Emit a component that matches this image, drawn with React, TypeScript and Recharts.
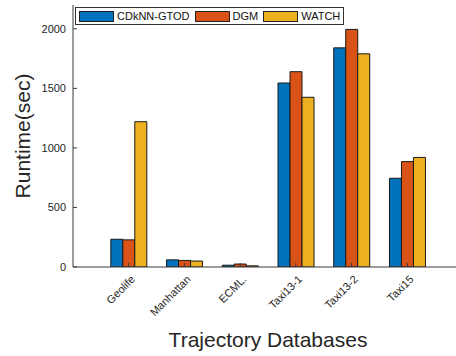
import { BarChart, Bar, XAxis, YAxis, Label } from "recharts";

const databases = ["Geolife", "Manhattan", "ECML.", "Taxi13-1", "Taxi13-2", "Taxi15"];
const cdknnGtod = [233, 60, 15, 1545, 1840, 745];
const dgm = [228, 55, 25, 1640, 1995, 885];
const watch = [1220, 50, 10, 1425, 1790, 920];
const yTicks = [0, 500, 1000, 1500, 2000];

const series = [
  { key: "cdknn", name: "CDkNN-GTOD", color: "#0072BD" },
  { key: "dgm", name: "DGM", color: "#D95319" },
  { key: "watch", name: "WATCH", color: "#EDB120" },
];

const data = databases.map((name, i) => ({
  name,
  cdknn: cdknnGtod[i],
  dgm: dgm[i],
  watch: watch[i],
}));

const FONT = "Liberation Sans, Arial, Helvetica, sans-serif";
const AXIS = "#3a3a3a";

const BottomTick = (props: any) => {
  const { x, y, payload } = props;
  const lx = x + 7;
  const ly = y + 7;
  return (
    <g>
      <line x1={x} x2={x} y1={y - 6} y2={y - 10} stroke={AXIS} strokeWidth={1} />
      <text
        x={lx}
        y={ly}
        textAnchor="end"
        fontSize={11}
        fontFamily={FONT}
        fill="#262626"
        transform={`rotate(-45, ${lx}, ${ly})`}
      >
        {payload.value}
      </text>
    </g>
  );
};

const TopTick = (props: any) => {
  const { x, y } = props;
  return <line x1={x} x2={x} y1={y + 6} y2={y + 10} stroke={AXIS} strokeWidth={1} />;
};

const LeftTick = (props: any) => {
  const { x, y, payload } = props;
  return (
    <g>
      <line x1={x + 6} x2={x + 10} y1={y} y2={y} stroke={AXIS} strokeWidth={1} />
      <text x={x - 1} y={y} dy={4} textAnchor="end" fontSize={11} fontFamily={FONT} fill="#262626">
        {payload.value}
      </text>
    </g>
  );
};

// legend drawn over the plot like the MATLAB "northwest" box
const LegendBox = () => (
  <div
    style={{
      position: "absolute",
      left: 75,
      top: 7,
      display: "flex",
      alignItems: "center",
      border: "1px solid #333",
      background: "#fff",
      padding: "0 3px",
      fontFamily: FONT,
      fontSize: 11,
      color: "#111",
      height: 18,
      boxSizing: "border-box",
      whiteSpace: "nowrap",
    }}
  >
    {series.map((s, i) => (
      <div
        key={s.key}
        style={{ display: "flex", alignItems: "center", marginRight: i < series.length - 1 ? 5 : 0 }}
      >
        <span
          style={{
            display: "inline-block",
            width: 35,
            height: 11,
            boxSizing: "border-box",
            background: s.color,
            border: "1px solid #222",
            marginRight: 3,
          }}
        />
        <span>{s.name}</span>
      </div>
    ))}
  </div>
);

export default function App() {
  return (
    <div
      style={{
        position: "absolute",
        left: 0,
        top: 0,
        width: 456,
        height: 356,
        overflow: "hidden",
        background: "#fff",
      }}
    >
      <BarChart
        width={470}
        height={356}
        data={data}
        margin={{ top: 5, right: 7, bottom: 0, left: 0 }}
        barGap={0}
        barSize={12}
      >
        <XAxis
          dataKey="name"
          xAxisId="top"
          orientation="top"
          height={0}
          padding={{ left: 27.8, right: 27.8 }}
          stroke="#888"
          tickLine={false}
          tickSize={6}
          tick={<TopTick />}
        />
        <XAxis
          dataKey="name"
          height={89}
          padding={{ left: 27.8, right: 27.8 }}
          stroke={AXIS}
          tickLine={false}
          tickSize={6}
          tickMargin={0}
          tick={<BottomTick />}
          interval={0}
        >
          <Label
            value="Trajectory Databases"
            position="insideBottom"
            offset={9}
            style={{ fontSize: 21, fontFamily: FONT, fill: "#262626" }}
          />
        </XAxis>
        <YAxis
          width={73}
          domain={[0, 2200]}
          ticks={yTicks}
          allowDataOverflow
          stroke={AXIS}
          tickLine={false}
          tickSize={6}
          tickMargin={0}
          tick={<LeftTick />}
        >
          <Label
            content={({ viewBox }: any) => {
              const cx = viewBox.x + 23;
              const cy = viewBox.y + viewBox.height / 2;
              return (
                <text
                  x={cx}
                  y={cy}
                  textAnchor="middle"
                  fontSize={21}
                  fontFamily={FONT}
                  fill="#262626"
                  transform={`rotate(-90, ${cx}, ${cy})`}
                  dy={7}
                >
                  Runtime(sec)
                </text>
              );
            }}
          />
        </YAxis>
        {series.map((s) => (
          <Bar
            key={s.key}
            dataKey={s.key}
            name={s.name}
            fill={s.color}
            stroke="#1a1a1a"
            strokeWidth={1}
            isAnimationActive={false}
          />
        ))}
      </BarChart>
      <LegendBox />
    </div>
  );
}
